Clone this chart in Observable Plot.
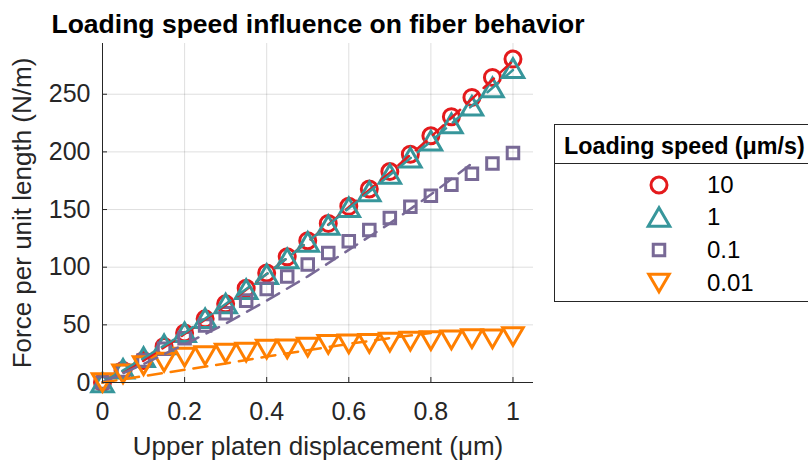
<!DOCTYPE html>
<html><head><meta charset="utf-8">
<script src="https://cdn.jsdelivr.net/npm/d3@7"></script>
<script src="https://cdn.jsdelivr.net/npm/@observablehq/plot@0.6"></script>
<style>
html,body{margin:0;padding:0;background:#fff;overflow:hidden;}
#wrap{position:relative;width:808px;height:464px;overflow:hidden;font-family:"Liberation Sans",Arial,Helvetica,sans-serif;}
#legend{position:absolute;left:554px;top:124px;width:280px;height:178px;border:1px solid #262626;box-sizing:border-box;background:#fff;}
#legend svg{position:absolute;left:0;top:0;}
</style></head><body><div id="wrap"></div>
<script>
// ---------- data ----------
const title = "Loading speed influence on fiber behavior";
const xLabel = "Upper platen displacement (μm)";
const yLabel = "Force per unit length (N/m)";
const legendTitle = "Loading speed (μm/s)";
const speeds = ["10", "1", "0.1", "0.01"];
const colors = ["#e41a1c", "#37969b", "#786996", "#ff7f00"];

const xTicks = [0, 0.2, 0.4, 0.6, 0.8, 1];
const xTickLabels = ["0", "0.2", "0.4", "0.6", "0.8", "1"];
const yTicks = [0, 50, 100, 150, 200, 250];
const yTickLabels = ["0", "50", "100", "150", "200", "250"];

const displacement = [0, 0.05, 0.1, 0.15, 0.2, 0.25, 0.3, 0.35, 0.4, 0.45, 0.5, 0.55, 0.6, 0.65, 0.7, 0.75, 0.8, 0.85, 0.9, 0.95, 1];
const force10  = [0, 10.4, 19, 31.2, 43, 55.2, 68.2, 81.7, 95, 109, 123, 138, 152.8, 167.8, 183, 198, 214, 230.5, 247.2, 264.6, 280.5];
const force1   = [0, 11.9, 22, 33, 43.6, 55.7, 68.5, 81, 94, 107.7, 122, 136.6, 152, 165.8, 180.8, 195, 209.7, 224.7, 240, 256, 272.7];
const force01  = [0, 10.4, 19, 29.2, 38.4, 49.4, 60, 71, 81.2, 91.9, 102.3, 112.4, 122.5, 132.3, 142.7, 152.5, 162, 171.6, 181, 190, 199];
const force001 = [0, 7.5, 14.7, 17.6, 22, 23.4, 25.4, 26.3, 29, 29.2, 30.6, 33, 33.5, 34, 35, 35.8, 36.4, 37, 38, 37.8, 39.9];

// dashed model curves
const modelX10   = [0, 0.1, 0.2, 0.3, 0.4, 0.5, 0.6, 0.7, 0.8, 0.9, 1];
const model10    = [0, 19, 42, 67, 94, 122, 152, 182, 213, 246, 279];
const modelX1    = [0, 0.1, 0.2, 0.3, 0.4, 0.5, 0.6, 0.7, 0.8, 0.9, 1];
const model1     = [0, 21, 43, 68, 94, 122, 151, 180, 209, 240, 271];
const modelX01   = [0, 0.1, 0.2, 0.3, 0.4, 0.5, 0.6, 0.7, 0.8, 0.9, 0.91];
const model01    = [0, 16, 33, 51, 71, 92, 115, 138, 163, 190, 193];
const modelX001  = [0, 0.1, 0.2, 0.3, 0.4, 0.5, 0.6, 0.7, 0.8];
const model001   = [0, 5.5, 11, 16.5, 22.5, 28, 33.5, 38.5, 43];

// ---------- helpers ----------
const font = '"Liberation Sans", Arial, Helvetica, sans-serif';
const ink = "#262626";
const toRows = (xs, ys) => xs.map((x, i) => ({x, y: ys[i]}));
const S3 = Math.sqrt(3);
const triUp = {draw(ctx, size) { const s = Math.sqrt(size / (S3 * 3));
  ctx.moveTo(0, -1.5 * s); ctx.lineTo(S3 * s, 1.5 * s); ctx.lineTo(-S3 * s, 1.5 * s); ctx.closePath(); }};
const triDown = {draw(ctx, size) { const s = Math.sqrt(size / (S3 * 3));
  ctx.moveTo(0, 1.5 * s); ctx.lineTo(S3 * s, -1.5 * s); ctx.lineTo(-S3 * s, -1.5 * s); ctx.closePath(); }};
const symbols = ["circle", triUp, "square", triDown];
const radii = [8, 8, 6.5, 7.6];
const measured = [force10, force1, force01, force001];
const modelsX = [modelX10, modelX1, modelX01, modelX001];
const models = [model10, model1, model01, model001];

const W = 808, H = 464, mL = 102, mR = 275, mT = 43, mB = 82;
const plotW = W - mL - mR, plotH = H - mT - mB;

const marks = [
  Plot.gridX(xTicks, {stroke: ink, strokeOpacity: 0.15, strokeWidth: 1}),
  Plot.gridY(yTicks, {stroke: ink, strokeOpacity: 0.15, strokeWidth: 1}),
];
measured.forEach((ys, k) => {
  marks.push(Plot.dot(toRows(displacement, ys), {x: "x", y: "y", r: radii[k], symbol: symbols[k],
    stroke: colors[k], strokeWidth: 3, fill: "none"}));
});
models.forEach((ys, k) => {
  marks.push(Plot.line(toRows(modelsX[k], ys), {x: "x", y: "y", stroke: colors[k], strokeWidth: 2.5,
    strokeDasharray: "14,9"}));
});
marks.push(
  Plot.ruleX([0], {stroke: ink, strokeWidth: 1}),
  Plot.ruleY([0], {stroke: ink, strokeWidth: 1}),
  Plot.ruleX(xTicks, {stroke: ink, insetTop: plotH - 5}),
  Plot.ruleY(yTicks, {stroke: ink, insetRight: plotW - 5}),
  Plot.axisX(xTicks, {tickSize: 0, tickPadding: 20, fontSize: 25, fill: ink, label: null,
    tickFormat: (d) => xTickLabels[xTicks.indexOf(d)]}),
  Plot.axisY(yTicks, {tickSize: 0, tickPadding: 12, fontSize: 25, fill: ink, label: null,
    tickFormat: (d) => yTickLabels[yTicks.indexOf(d)]}),
  Plot.text([xLabel], {text: d => d, frameAnchor: "bottom", dy: 72, fontSize: 26, fill: ink}),
  Plot.text([yLabel], {text: d => d, frameAnchor: "left", textAnchor: "middle", dx: -80, rotate: -90, fontSize: 26, fill: ink}),
  Plot.text([title], {text: d => d, frameAnchor: "top", textAnchor: "middle", dy: -29, fontSize: 26.5, fontWeight: "bold", fill: "#000"})
);

const chart = Plot.plot({
  width: W, height: H,
  marginLeft: mL, marginRight: mR, marginTop: mT, marginBottom: mB,
  x: {domain: [0, 1.05]},
  y: {domain: [0, 294]},
  style: {fontFamily: font, background: "#fff", overflow: "visible"},
  marks
});
const wrap = document.getElementById("wrap");
wrap.appendChild(chart);

// ---------- legend ----------
const leg = d3.select(wrap).append("div").attr("id", "legend");
const lsvg = leg.append("svg").attr("width", 280).attr("height", 178)
  .style("font-family", font);
lsvg.append("line").attr("x1", 0).attr("x2", 280).attr("y1", 38.5).attr("y2", 38.5).attr("stroke", ink);
lsvg.append("text").attr("x", 9).attr("y", 21).attr("dy", "0.35em")
  .attr("font-size", 23.3).attr("font-weight", "bold").attr("fill", "#000").text(legendTitle);
const rowY = [60, 92, 125, 158];
speeds.forEach((s, k) => {
  lsvg.append("path")
    .attr("transform", `translate(104,${rowY[k]})`)
    .attr("d", d3.symbol(typeof symbols[k] === "string" ? (symbols[k] === "circle" ? d3.symbolCircle : d3.symbolSquare) : symbols[k],
      radii[k] * radii[k] * Math.PI)())
    .attr("fill", "none").attr("stroke", colors[k]).attr("stroke-width", 3);
  lsvg.append("text").attr("x", 152).attr("y", rowY[k]).attr("dy", "0.35em")
    .attr("font-size", 24).attr("fill", "#000").text(s);
});
</script>
</body></html>
